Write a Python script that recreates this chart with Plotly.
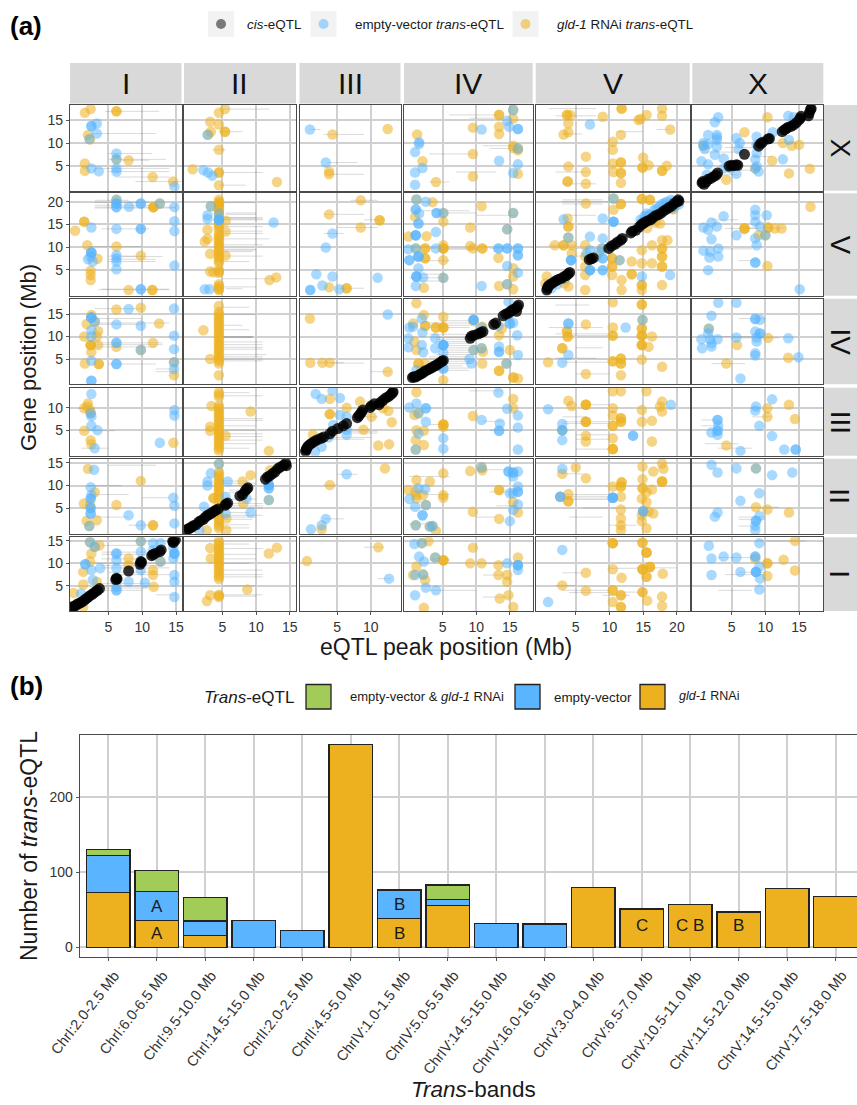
import plotly.graph_objects as go

# ---------- panel (a) data: Mb, (peak position, gene position) ----------
chroms = ["I", "II", "III", "IV", "V", "X"]
rows_top_down = ["X", "V", "IV", "III", "II", "I"]

cis_X = [(0.6,1.2),(0.7,1.5),(0.9,0.9),(1.2,1.4),(1.5,2.0),(1.9,2.2),(2.3,2.6),(2.7,2.9),(2.9,3.4),(4.6,4.9),(4.9,5.1),(5.3,5.0),(5.7,5.2),(5.9,5.1),(6.9,7.5),(9.0,9.3),(9.3,9.9),(9.6,10.2),(10.4,10.9),(10.6,11.0),(12.5,12.5),(12.8,12.9),(13.1,13.2),(13.4,13.5),(13.8,13.7),(14.2,14.0),(14.6,14.5),(15.0,15.1),(15.2,15.5),(15.3,15.9),(16.4,16.0),(16.5,16.6),(16.7,17.4),(16.8,17.6)]
cis_V = [(0.7,0.5),(0.8,0.9),(0.9,1.3),(1.1,1.6),(1.4,1.9),(1.8,2.3),(2.1,2.6),(2.5,2.9),(2.9,3.1),(3.3,3.5),(3.6,3.7),(3.9,4.1),(4.1,4.4),(7.0,7.2),(7.3,7.4),(7.6,7.6),(9.9,9.7),(10.3,10.2),(10.8,10.6),(11.2,11.1),(11.7,11.5),(11.9,11.9),(13.2,13.1),(13.4,13.5),(13.9,13.7),(14.4,14.4),(14.7,14.9),(15.0,15.2),(15.3,15.5),(15.7,15.8),(16.1,16.0),(16.4,16.4),(16.8,16.9),(17.2,17.1),(17.6,17.4),(18.0,17.9),(18.4,18.3),(18.8,18.7),(19.2,19.0),(19.6,19.6),(20.0,20.0),(20.2,20.4),(20.3,20.1)]
cis_IV = [(0.5,0.9),(0.7,1.1),(0.9,1.0),(1.2,1.2),(1.5,1.5),(1.8,1.7),(2.1,2.0),(2.4,2.4),(2.8,2.6),(3.1,2.9),(3.4,3.1),(3.7,3.4),(4.0,3.6),(4.3,3.9),(4.6,4.2),(4.9,4.5),(5.1,4.7),(9.1,9.6),(9.3,10.1),(9.7,10.3),(10.3,10.6),(10.7,10.9),(11.0,11.1),(12.6,12.7),(12.9,13.0),(14.0,14.6),(14.4,15.0),(14.8,15.2),(15.1,15.6),(15.5,16.0),(15.8,16.2),(16.1,16.6),(16.3,17.0),(16.0,15.6)]
cis_III = [(0.3,0.3),(0.4,0.7),(0.5,1.1),(0.7,1.5),(1.0,1.9),(1.3,2.2),(1.7,2.6),(2.1,2.9),(2.6,3.2),(3.0,3.5),(3.9,4.2),(4.3,4.8),(5.1,5.4),(5.9,6.0),(6.4,6.5),(8.0,7.8),(8.2,8.2),(8.4,8.6),(8.6,9.0),(8.8,9.5),(9.9,10.1),(10.1,10.5),(10.5,10.9),(11.2,10.7),(11.4,11.2),(11.8,11.7),(12.2,12.2),(12.6,12.5),(12.9,12.9),(13.2,13.3),(13.3,13.6)]
cis_II = [(-0.3,0.2),(0,0.4),(0.2,0.6),(0.5,0.8),(0.7,1.1),(1.1,1.3),(1.5,1.9),(1.8,2.2),(2.2,2.5),(2.5,3.0),(2.8,3.4),(3.1,3.6),(3.4,3.9),(3.7,4.2),(4.0,4.5),(4.4,4.8),(5.4,5.6),(5.6,5.9),(5.8,6.1),(7.6,7.7),(8.0,8.0),(8.4,8.8),(8.6,9.2),(8.8,9.5),(11.4,11.4),(11.7,11.9),(12.0,12.1),(12.4,12.6),(12.8,13.0),(13.2,13.7),(13.6,14.1),(14.1,14.5),(14.4,14.9),(14.5,14.4)]
cis_I = [(-0.5,0.2),(-0.2,0.4),(0.1,0.5),(0.4,0.9),(0.7,1.1),(1.0,1.3),(1.3,1.6),(1.6,2.0),(1.9,2.3),(2.2,2.7),(2.5,3.0),(2.8,3.3),(3.1,3.7),(3.4,4.0),(3.7,4.4),(6.1,6.4),(6.3,6.5),(6.2,6.7),(8.0,8.3),(9.7,9.8),(9.9,10.2),(9.8,10.4),(11.4,11.7),(11.6,12.0),(11.9,12.2),(12.6,12.6),(12.8,13.0),(14.5,14.9),(14.7,15.0),(14.9,15.2),(14.6,14.6)]

# row X
ev_X_I = [(2.5,13.75),(2.5,13.75),(3.3,14.3),(3.3,12.1),(2.2,10.9),(6.2,7.7),(6.2,6.4),(6.2,4.4),(6.2,3.7),(2.5,4.4),(3.6,3.75),(14.75,0.4)]
gld_X_I = [(1.55,16.7),(2.4,17.5),(6.2,17.0),(6.2,17.0),(2.0,11.8),(1.55,5.5),(1.55,3.9),(8,6.2),(11.55,2.5),(14.55,1.5),(2.3,10.8),(6.2,6.4)]
ci_X_I = [(4.5,12.5,17.0),(2.5,12,12.1),(5,11.5,7.7),(5,13.5,6.4),(7,11,6.2),(3,14,4.4),(5,14,3.7),(6,14,2.5),(9,16,1.5)]
ev_X_II = [(2.8,11.8),(2.2,4.0),(2.9,3.5),(3.5,2.8)]
gld_X_II = [(5.4,17.5),(4.5,16.7),(3.2,14.7),(4.5,14.1),(3.3,12.5),(5.4,12.5),(5.4,12.5),(4.5,8.5),(0.6,4.2),(4.5,3.5),(4.5,3.5),(4.5,0.7),(13.1,1.4),(2.9,11.9)]
ci_X_II = [(5,12,17.5),(4.5,8,12.5),(3.5,5.5,8.5),(5,11,3.5),(4.5,8.5,0.7)]
ev_X_III = [(0.95,13),(3.3,5.7)]
gld_X_III = [(4.3,11.9),(12.5,13.1),(3.8,3.7),(3.8,3.1)]
ci_X_III = [(0.9,2.5,13),(3,9,11.9),(3.5,8,5.7),(4,9,3.1)]
ev_X_IV = [(1.5,9.8),(0.9,8.0),(0.9,3.5),(2,4.5),(0.9,0.8),(15.5,17.3),(10.8,13),(14.6,14.9),(14.9,13.6),(16.2,13.1),(16.2,13.1),(16.2,8.8),(13.4,6.1),(16.2,5.3),(15.5,3.4),(1.5,10.2)]
gld_X_IV = [(1.2,11.9),(2,6),(4,1.4),(9.5,13.4),(9.5,7.6),(9.5,2.6),(13.4,16.2),(13.4,16.2),(13.4,13.6),(13.4,12),(15.5,15.4),(15.5,9.4),(15.5,8.9),(16.2,8.4),(16.2,3.2),(15.5,17.3),(16.2,8.8)]
ci_X_IV = [(6,13,16.2),(9,14,15.5),(12,15,8.8),(11,16,9.4),(3,9.5,7.6),(7,13,3.6),(3,6,1.4)]
ev_X_V = [(7.1,14.1)]
gld_X_V = [(3.7,16.2),(3.7,16.2),(4.2,16.2),(3.9,14.3),(3.2,11.9),(3.9,12.4),(9,15.8),(11.8,17.6),(11.8,17.6),(17.8,17.6),(17.8,16),(15.5,16.2),(14.3,15.1),(14.6,15.3),(19,13),(11.7,11.8),(10.5,10.3),(10.5,8.5),(6.5,7),(15,6.8),(10.5,5.5),(11.7,5.7),(11.7,5.7),(3.9,4.8),(6.5,3.6),(10.6,3.6),(11.7,3.4),(11.7,3.4),(3.8,1.5),(3.8,1.5),(6.5,1),(11.7,1.2),(14.9,4.6),(14.9,4.6),(15.8,5.1),(17.8,3.9),(17.8,3.9),(18.5,5)]
ci_X_V = [(1,8,17.6),(2,8,16),(3,6,12),(11,15,12.5),(17,19,13),(2,7,3.6),(3,8,1)]
ev_X_X = [(3,15.7),(2.5,14.6),(1.5,11.8),(2.8,11.8),(2.8,10.7),(2.8,11.2),(0.8,10),(1.5,9.8),(2.8,9.2),(1,8.7),(2.5,7.4),(3.8,6.6),(0.5,6),(1.5,5.3),(5.7,11.1),(6.2,10),(6,8.7),(8.7,11.4),(8.7,9.6),(8.7,7.8),(8.5,6.4),(8.7,4.9),(9,3.7),(5.7,3.2),(11.1,12.4),(13.4,16),(14.2,15.7),(13.5,10.7),(12.6,6.4),(1.3,3),(3.8,4.4),(4.8,4.4),(8.5,4.4),(0.8,9.4)]
gld_X_X = [(10.3,15.7),(6.9,12.4),(12.6,10),(13.9,9.4),(15,9.6),(11,6.1),(13.5,3.3),(16.6,4.3),(4.2,1.9),(8.5,4.4),(0.8,9.4)]
ci_X_X = [(0.5,7,8),(2,8,4),(1,6,3),(4,9,9),(8,11,7)]

# row V
ev_V_I = [(6.2,20.4),(6.2,19.6),(6.2,19.6),(6.2,18.8),(6.2,18.8),(8.05,18.9),(9.8,19.6),(9.8,19.6),(12.6,19.6),(14.75,18.8),(14.75,15.7),(14.75,13.5),(2.5,14.3),(6.2,14),(9.8,14),(9.8,14),(2.5,8.8),(2.5,8.8),(2.5,8.8),(2.4,7.9),(2,7.3),(2.7,6.8),(6.2,8.2),(6.2,7.5),(6.2,6.8),(6.2,5.1),(14.75,5.9),(9.8,0.7),(9.8,0.7)]
gld_V_I = [(1.45,15.6),(1.45,15.6),(0.1,13.6),(1.9,10.4),(3.4,7.4),(6.2,10.1),(9.8,8.1),(2.4,4.8),(2.4,3.8),(2.4,2.7),(8,0.5),(11.5,0.5),(11.5,0.5),(11.65,18.8),(11.65,18.8),(11.65,18.8),(6.2,20.4),(12.6,19.6)]
ci_V_I = [(3,8,20.3),(3,11,19.8),(3,12,19.2),(3,15,18.8),(3,15,18.6),(4,11,14),(2,10,10.1),(5,10,8),(7,13,7.9),(5,12,7.3),(5,12,6.8),(4,14,0.7),(3.5,14,0.6)]
ev_V_II = [(3.3,19),(2.8,17),(2.8,16.2),(4.5,16),(4.5,16),(4.5,16),(4.5,16),(4.5,17.4),(12.6,15.4),(2.4,0.7),(3.1,0.7)]
gld_V_II = [(4.5,20.4),(4.5,20),(4.5,19.6),(4.5,19.6),(4.5,19.2),(4.5,18.8),(4.5,18.4),(4.5,18),(4.5,17.4),(4.5,16.5),(4.5,15.5),(4.5,15),(4.5,14.5),(4.5,14),(4.5,13),(4.5,12.5),(4.5,12),(4.5,11.5),(4.5,11),(4.5,10.5),(4.5,10),(4.5,9.5),(4.5,9),(4.5,8.5),(4.5,8),(4.5,7.5),(4.5,7),(4.5,6.5),(4.5,5),(4.5,4.5),(4.5,4.3),(4.5,1.8),(4.5,1.4),(4.5,1),(4.5,0.7),(4.5,0.5),(5.5,15.8),(5.5,13.4),(2.8,13.8),(2.8,11.8),(2.4,11.2),(3.2,8.5),(5.5,8.1),(3.2,4.6),(3.7,4.4),(12,2.7),(13,3.3),(3.3,19)]
ci_V_II = [(5,11,16.5),(5,11,16.2),(5,11,16),(5,10,16.4),(5.5,10,17.5),(5.5,10,17.2),(5,10,19.8),(5,11,14.5),(5,11,13.5),(5,11,13),(5,12,11.8),(5,11,10.5),(5,10,9.5),(5,10,9.3),(5,9.5,9),(5,11,8),(5,9,6.8),(5,13,3),(5,10,1.2),(5.5,8,0.8)]
ev_V_III = [(4.3,13),(3.3,9.9),(1.9,4),(4.3,3.5),(2.8,1.5),(1,0.5),(1,0.5),(5.3,0.7),(11,3.2)]
gld_V_III = [(8.5,20.3),(3.8,17.2),(11.3,15.9),(11.3,15.9),(8.5,14.3),(3.8,1.1),(6.4,0.9),(6.4,0.9)]
ci_V_III = [(7,11,20.3),(3,9,17.2),(9,12,16),(5,11,14.3),(3,6,13),(5,9,0.9)]
ev_V_IV = [(1.1,20.5),(2.5,20),(1,18.3),(1,18.3),(1.5,17.4),(1.4,15.2),(1.4,15.2),(1,12.6),(1,12.6),(1,12.6),(-0.1,9.5),(1,9.7),(0.05,7.1),(0.05,7.1),(1.4,7.9),(1.4,7.9),(1.4,7.9),(1.4,5.3),(1.1,3.5),(1.1,3.5),(1.1,3.5),(2.1,3.3),(1,1.4),(4.1,17.5),(4.1,17.5),(5.1,17.5),(4,13.3),(15.5,17.5),(14.6,13.9),(4,9.7),(13.3,9.7),(13.3,9.7),(14.6,9.7),(14.6,9.7),(16.2,9.7),(16.2,9.7),(16.2,8.2),(16.2,8.2),(14.6,5.8),(16.2,4.3),(10.8,1.4),(5.1,3.2),(14.6,1.8)]
gld_V_IV = [(-0.1,12.3),(0.9,16.7),(2.6,12.4),(2.4,9.7),(2.4,9.7),(2.4,7.5),(2.4,7.5),(2.2,1),(1.1,20.5),(1,9.7),(3.5,19.9),(10.8,19),(5.1,17.5),(5.1,15.6),(9.1,14.3),(14.6,13.9),(5.1,10.4),(5.1,9.7),(5.1,9.7),(5.1,9.7),(9.1,10.2),(9.5,9.7),(10.9,9.7),(10.9,9.7),(13.3,7.6),(5.1,7.1),(15.5,5.3),(15.5,3.5),(13.4,1.4),(15.5,0.7),(5.1,3.2),(14.6,1.8),(15.5,17.5)]
ci_V_IV = [(2,9,18),(5,10,17.5),(3,10,9.7),(5,11,9.5),(2,6,7),(10,16,17),(12,16,9.7),(1,5,4),(0,5,3.2),(1,5,2.5)]
ev_V_V = [(3.2,16.1),(9,16.3),(10.6,20.7),(10.6,15.6),(10.6,15.6),(10.6,15.6),(14.6,16),(15.5,17.4),(18.5,20),(17,18.5),(19.3,18.5),(7.1,12.3),(9,11.9),(4.3,7.1),(4.3,7.1),(4.3,7.1),(7.1,9.3),(9,7.5),(9,7.5),(9,4.9),(9,4.9),(7.1,4.9),(7.1,4.9),(7.1,4.9),(11.5,7.1),(14.8,3.5),(19,3.8),(3.9,12.1),(6.6,8.6),(8.9,9.7),(16,17.2),(17.8,19.5),(19.5,20.1),(15.2,16.8),(14.9,15.6),(15.6,16.8),(16.6,18.1),(17.4,18.9),(18.2,19.7),(19.1,20.4),(20.3,19.4),(19.7,19.0),(1.4,0.9),(2.3,1.8),(3.4,3.0),(8.5,8.9)]
gld_V_V = [(6.5,19.6),(11.7,19.5),(11.7,19.5),(10.6,18.2),(14.8,20.6),(14.8,20.6),(16,20.4),(16,20.4),(3.8,16.3),(3.9,14.5),(3.9,14.5),(1.9,10.4),(3.2,10.4),(3.2,10.4),(4.4,10.4),(4.4,8.6),(6.4,10.4),(6.4,7.9),(6.4,5.7),(6.4,3.8),(6.4,0.5),(10.4,7.5),(10.4,7.5),(10.4,5.7),(10.4,5.7),(10.4,3.8),(11.8,2.7),(11.8,0.5),(13.3,6.8),(13.3,4),(13.3,4),(14.8,9.3),(14.8,6.4),(14.8,1.6),(14.8,1.6),(14.8,0.5),(16.3,10.4),(16.3,6.4),(17.8,11.5),(18.6,11.5),(17.8,9.7),(17.8,9.7),(17.8,7.9),(17.8,7.9),(17.8,5.7),(17.8,5.7),(17.8,1.6),(17.5,15.2),(3.9,1.3),(0.7,3.5),(8.1,7.9),(3.9,12.1),(8.9,9.7),(11.5,7.1),(10.6,20.7),(15.6,14.2),(16.8,15.4),(19.5,18.3),(0.5,1.9),(3.3,2.0)]
ci_V_V = [(3,10,20),(3,9,19.5),(4,8,17),(1,5,10.4),(5,10,9.7),(5,8,8),(3,9,20.4)]
ev_V_X = [(3.8,16.8),(2,15.4),(0.8,14.3),(1.5,13.8),(2.8,14.5),(2,11.7),(0.8,9.2),(1.7,7.7),(3,9.7),(3,7.9),(1.8,9),(1.5,4.9),(5.7,12.6),(8.5,18.2),(10.2,17),(8.5,17),(8.5,15.6),(9.2,14.5),(8.5,11.9),(8.7,10.4),(8.5,6.6),(8.5,6.6),(15.1,0.7),(10,12.6)]
gld_V_X = [(6.9,14.1),(6.9,14.1),(6.9,14.1),(10.4,14.3),(10.4,14.3),(11.4,14.1),(12.4,14.1),(16.7,18.9),(10.3,5.8),(9,12.6),(10,12.6)]
ci_V_X = [(4,9,14.1),(7,13,14.2),(3,8,9.6),(6,9,7),(2,6,16)]

# row IV
ev_IV_I = [(2.5,14.2),(2.5,14.2),(2.5,14.2),(8,16.1),(14.7,16.2),(6.2,12.7),(9.8,12.4),(2.5,11.4),(2.5,10),(6.2,8.6),(6.2,8.6),(14.7,10.2),(14.7,7.2),(9.8,7),(2.5,4.6),(6.2,3.9),(6.2,3.9),(14.7,4.3),(14.7,2.8),(2.5,0.2),(2.5,0.2),(3,13.3)]
gld_IV_I = [(2.5,14.8),(6.2,16),(9.8,16.4),(12.5,12.9),(1.8,12.8),(3.5,11.2),(1.45,10),(3.3,10),(2.4,8.1),(2.4,8.1),(2.4,8.1),(3.5,8.1),(6.2,7.7),(2.5,6.5),(11.6,8.6),(1.55,4),(3.6,3.9),(3.6,3.9),(14.7,1.4),(9.8,7),(14.7,4.3),(3,13.3)]
ci_IV_I = [(3,10,16.2),(3,10,14),(3,14,13),(3,13,8.6),(3,13,8.2),(3,12,7.7),(5,12,3.9),(12,15,2.8),(12,15,2.2),(3,10,12.7)]
ev_IV_II = []
gld_IV_II = [(4.5,16.8),(4.5,15.5),(4.5,15),(4.5,14.5),(4.5,14),(4.5,13.5),(4.5,13),(4.5,12.5),(4.5,12),(4.5,11.5),(4.5,11),(4.5,10.5),(4.5,10),(4.5,9.5),(4.5,9),(4.5,8.5),(4.5,8),(4.5,7.5),(4.5,7),(4.5,6.5),(4.5,6),(4.5,5.5),(4.5,5),(4.5,4.5),(4.5,4),(4.5,1.4),(2.2,11.4),(3.2,5)]
ci_IV_II = [(5,9.5,9.9),(5,9.5,9.9),(5,9.5,9.9),(5,11,8.8),(5,11,8.2),(5,11,7.6),(5,11,7.2),(5,11.5,6),(5,11,5.5),(5,11,5),(5,11,4.6),(5,9,16.5),(5,10,14.9),(5,8,12.5),(5,9,11.5)]
ev_IV_III = [(12.5,14.9)]
gld_IV_III = [(0.95,14),(1,4.2),(2.8,4.2),(3.9,4.2),(12.5,2.2)]
ci_IV_III = [(2,6,4.2),(4,9,4.1),(10,13,2.2)]
ev_IV_IV = [(0.05,12),(0.6,12.2),(-0.1,9.6),(-0.1,7.6),(1.9,14),(2,10.9),(1.9,8.1),(2.1,6.5),(1.1,2.6),(9.6,13.7),(9.6,13.7),(9.6,13.7),(10.8,12),(5.1,8.1),(5.1,8.1),(5.1,8.1),(5.1,8.1),(5.1,6.3),(3.9,9.6),(3.9,7.4),(9.3,4),(9,5),(13.4,6.6),(13.4,6.6),(13.4,7.8),(14.8,17.7),(15,12.9),(15,12.9),(16.2,5.9),(16.1,10.3),(14.5,4),(5.1,2.9),(5.1,2.9),(13.3,12.4),(10.8,7.4),(9.6,7),(15.5,13),(14.8,14.5)]
gld_IV_IV = [(1.1,17.4),(2.2,14.8),(0.6,12.9),(2.4,12.4),(2.4,12.4),(0.8,8.9),(1.1,7),(1.4,4),(1.4,4),(2.4,4),(5.1,14.4),(4,12),(4,12),(5.1,12),(5.1,12),(5.1,12),(9.6,13.4),(10.9,12.2),(10.9,4),(13.4,2.4),(13.4,2.4),(15.5,0.9),(15.5,0.9),(16.2,0.7),(13.4,10.3),(15,7),(11,6.6),(5.1,0.3),(14.5,4),(10.8,7.4),(9.6,7),(13.8,11.8)]
ci_IV_IV = [(5,9.3,13.5),(3,9,13),(3,9,12.5),(3,9,12),(3,9,10.5),(4,11,9.8),(4,11,9.4),(4,9,8.9),(4,9,8.5),(5,9,8),(4,9,7.5),(5,9,7),(5,9,6.5),(4,9,6),(3,9,5.5),(3,9,5),(3,9,4.5),(3,9,4),(3,8,3.5),(3,9,3),(4,9,2.5),(13,16,10),(14,17,16)]
ev_IV_V = [(3.9,12.9),(3.9,12.9),(12.4,12),(3,4.2),(3.9,5.9),(14.9,13.7)]
gld_IV_V = [(10.5,17.6),(14.8,17.1),(14.8,17.1),(6.5,12.7),(10.5,12),(3.7,11.2),(3.7,11.2),(3.8,10),(3.8,10),(10.5,10.2),(10.5,10.2),(14.8,11.8),(14.8,11.8),(14.8,10.2),(14.8,10.2),(14.8,10.2),(16.3,10),(14.8,8.1),(14.8,8.1),(14.8,8.1),(15.8,7.7),(3,7.4),(3,7.4),(0.9,4.3),(6.5,1.7),(10.5,4.5),(10.5,4.5),(11.7,5.1),(11.7,5.1),(11.7,4),(11.7,4),(14.8,4.9),(11.7,1.4),(17.8,3.3),(14.9,13.7)]
ci_IV_V = [(2,7,17),(1,9,12),(3,10.5,10.2),(2,10,10.6),(5,9,7.5),(2,8,5.2),(3,10,4.3),(5,10,1.7)]
ev_IV_X = [(3,17.5),(5.7,17.5),(2,14.6),(8.5,13.9),(8.5,13.9),(9.2,13.7),(1.6,11.7),(1.5,10.7),(0.5,9.4),(1.8,9.4),(2.9,9.4),(0.6,7.4),(2,7.8),(2,8.5),(5.7,9.8),(8.5,11.1),(9.2,10.7),(9.2,10.7),(8.7,9.8),(8.7,8.9),(8.5,6.3),(8.5,5.8),(13.4,9.6),(14.9,5.4),(6.3,0.7)]
gld_IV_X = [(10.4,9.7),(5.8,8.1),(4.2,4),(13.4,5.3),(1.6,11.8)]
ci_IV_X = [(5,12,9.7),(2,10,10),(6,10,14),(2,7,4)]

# row III
ev_III_I = [(2.5,13.1),(2.4,8.8),(2.5,8.1),(2.5,6),(3.4,5),(3,1),(12.6,2.2),(14.75,9.5),(14.75,8.3)]
gld_III_I = [(2,11),(1.9,10.3),(1.45,9.9),(2.3,9.5),(1.45,4.9),(2.4,2.8),(2.5,1.9),(14.6,2.2),(2.4,8.8)]
ci_III_I = [(0.5,3,9.9),(1,6,4.9),(1,5,1)]
ev_III_II = []
gld_III_II = [(4.5,13.5),(4.5,13),(4.5,12.5),(4.5,10.5),(4.5,10),(4.5,9.5),(4.5,9),(4.5,8.5),(4.5,8),(4.5,7.5),(4.5,7),(4.5,6.5),(4.5,6),(4.5,5.5),(4.5,5),(4.5,4.5),(4.5,4),(4.5,3.5),(4.5,3),(4.5,2.5),(4.5,2),(4.5,1.5),(4.5,1),(4.5,0.5),(3.4,10.4),(9.2,9.2),(3.2,5.8),(3.2,4.9),(5.5,3.8),(11.9,0.4)]
ci_III_II = [(5,9,13.4),(5,11,12.7),(5,11,7.6),(5,11,7.2),(5,10,6),(5,10,5),(5,11,4.2),(5,11,3.6),(5,11,2.8),(5,10,2),(5,9,1)]
ev_III_III = [(1.8,13.1),(2.7,12),(4.3,13.8),(5.4,12.2),(5.4,8.4),(6.4,8),(4.4,6.2),(6.4,5.1),(6.4,4),(2.7,1.3),(3.7,3.4),(1.7,0.2)]
gld_III_III = [(3.9,12),(3.9,8.6),(3.9,8.6),(6.4,10),(8.9,5.1),(11.1,1.6),(12.7,1.9),(13.1,6.8),(12.6,9.3),(10.1,8),(8.4,11.4),(1.4,4),(11.8,9.9)]
ci_III_III = [(1,10,5.2),(5,11,4.8),(7,11,4.4),(2,10,3.4),(2,9,3),(7,11,8)]
ev_III_IV = [(0.05,10.1),(1.1,11),(2.5,9.9),(2.5,9.9),(2.5,6.9),(1.4,4.3),(1,0.7),(13.3,13.4),(14.6,9.8),(16.2,8.3),(10.8,7.3),(13.5,6.5),(16.2,5.6),(13.4,4.9),(13.4,4.9),(5.1,3.2),(5.1,0.9),(16.2,0.7),(1.4,8.8)]
gld_III_IV = [(1.1,13.5),(0.8,8.4),(1.4,8.8),(1.1,5),(1,2.8),(2.2,4.9),(2.2,1.7),(1,0.7),(15.5,12),(15.5,9.9),(9.5,8.2),(5.1,6.3),(5.1,6.3),(5.1,6.3),(5.1,5.8)]
ci_III_IV = [(3,5,6.3),(11,14,7),(12,16,5),(9,14,13.8)]
ev_III_V = [(0.9,9.7),(19.1,10.7),(3,6.4),(3,5),(3,5),(3,2.8),(13.5,3.8),(13.5,3.8)]
gld_III_V = [(10.5,13.7),(11.7,13.7),(15.5,13.7),(3.9,11.6),(4.4,10.4),(6.5,10.7),(6.5,10.7),(6.5,10.7),(10.5,9.9),(10.5,8.3),(11.7,7.7),(11.7,7.7),(14.8,9.5),(17.8,11.4),(17.5,10.3),(17.8,9.2),(6.5,6.9),(6.5,6.9),(6.5,6.9),(14.8,6.9),(16.3,7.1),(10.5,6),(10.5,6),(11.7,6.9),(11.7,6.9),(6.5,3.8),(6.5,2.5),(10.5,3.2),(16.3,2.5),(10.5,0.8),(10.5,0.8),(10.5,0.8),(3,5)]
ci_III_V = [(6,10,10.7),(3,6.5,8),(3,10,6.9),(3,10,6.5),(5,10,4),(5,10,3),(5,10.5,0.8)]
ev_III_X = [(11,11.9),(8.6,10.3),(8.5,9.4),(2.9,7.3),(2.9,7.3),(3,6),(2,4.5),(2.9,4.9),(2.9,4.9),(2.9,4),(9.1,6),(11,3.7),(6.3,0.4),(12.8,0.7),(14.5,0.7),(14.5,0.7)]
gld_III_X = [(10.3,9.9),(10.3,8),(13.5,10.7),(14.4,7.5),(4.2,1.6)]
ci_III_X = [(0.5,3,7.3),(0.5,3,6),(1,6,2),(3,8,1),(8,11,8)]

# row II
ev_II_I = [(2.9,13.5),(2.4,9.6),(2.5,7.9),(2.4,7.1),(2.4,7.1),(2.4,5),(2.4,5),(2.4,3.8),(2.4,3.8),(2.2,1),(14.6,7.3),(14.75,5.5),(14.75,1.6),(8,3.4),(9.8,1.2)]
gld_II_I = [(2,13.7),(3,8.5),(1.4,6),(6.2,5.7),(9.8,11),(11.6,1.2),(11.6,1.2),(1.8,2.2),(3.3,2.3),(2.3,5.7),(2.2,1)]
ci_II_I = [(5,12,14.5),(2,8,8),(10,14,7.3),(8,12,1.2),(3,8,3),(2,7,10)]
ev_II_II = [(3.3,12.7),(2.8,10.9),(2.8,10),(5.8,10.9),(2.3,5.3),(5.5,7.5),(5.5,3.8),(9.2,4),(11.9,10.1),(11.9,10.1),(11.9,10.1),(11.9,9.4),(11.9,9.4),(11.9,6.8),(8.6,7.1),(1.6,0.1),(4.5,14.8)]
gld_II_II = [(4.5,14.8),(4.5,13),(4.5,12.5),(4.5,12),(4.5,11.5),(4.5,11),(4.5,10.5),(4.5,10),(4.5,9.5),(4.5,9),(4.5,8.5),(4.5,8),(4.5,7.5),(4.5,7),(4.5,6),(4.5,5),(4.5,4),(4.5,3),(4.5,2.5),(4.5,2),(4.5,1.5),(4.5,1),(4.5,0.5),(9.2,12.3),(8,10.9),(5.6,2.7),(5.6,0.1),(2.7,0.1),(3.7,7.2),(3.7,7.2),(12.1,13.4),(8.1,6),(11.9,6.8)]
ci_II_II = [(5,9,11),(5,10,10.5),(6,10,10),(6,9,9),(6,9,8.5),(6,10,7),(6,11,6),(6,11,5.5),(5,11,5),(6,9,4),(5,11,3.4),(5,10,3),(5,9.5,2.5),(5,9,1.3),(5,9,0.6)]
ev_II_III = [(6.4,12.5),(3.3,2.6),(2.7,1.2),(1.1,0.3)]
gld_II_III = [(3.9,10.1),(12.1,13.8),(2.7,0.3)]
ci_II_III = [(5,8,12.5),(3,5,10.1),(3,6,2.6)]
ev_II_IV = [(1.4,9.4),(2.4,9.2),(0.05,7),(0.9,5.3),(2.5,5.7),(2,3.4),(2,3.4),(1,1.2),(3.1,0.9),(10.8,14),(14.8,13.1),(14.8,13.1),(15.5,12.9),(15.5,12.9),(16.2,13.1),(15.5,12),(16.2,9.8),(15,8.3),(16.2,8.6),(16.2,8.6),(15.5,8.3),(16.2,5.8),(15.5,4.6),(15,2.1),(3.5,1)]
gld_II_IV = [(1.1,11.2),(-0.1,9),(1.1,7.1),(2.1,7.9),(0.9,8.6),(1.1,7.9),(3.1,10.9),(5.1,12.7),(9.1,13.2),(10.9,13.4),(5.1,7.9),(5.1,7.3),(13.4,9),(13.4,9),(9.5,4.2),(13.4,2.6),(15.5,6.3),(16.2,4),(4,-0.1),(10.8,14),(1,1.2),(2.5,5.7),(3.5,1),(3.1,0.9)]
ci_II_IV = [(0,6,12),(2,6,8),(0,4,1.5),(12,16,8.6),(11,16,13.5),(10,13,3),(13,16,5.5)]
ev_II_V = [(3,13.7),(2.7,7.5),(2.7,7.5),(10.5,7.3),(10.5,7.3),(10.5,7.3),(10.5,7.3),(15,4.3),(15,4.3)]
gld_II_V = [(5,14),(3,12.6),(6.5,11.6),(14.9,14.2),(17.8,14.9),(18,13.7),(16.5,13.1),(14.9,11.4),(17.8,10.9),(17.8,10.9),(17.8,10.9),(11.8,10.7),(11.8,10.7),(11.7,9.8),(11.7,9.8),(10.5,9.8),(14.9,9.4),(14.9,9.4),(16.3,9.1),(15.5,8.5),(11.7,7.5),(3.9,8.1),(3.9,6.5),(3.9,6.5),(14.8,7.1),(15.5,6.3),(11.7,4.7),(11.7,2.7),(11.7,1.2),(11.7,0.1),(14.8,3.4),(14.8,2.1),(15.5,0.5),(15.8,4.2),(16.5,3.8),(2.7,7.5),(15,4.3)]
ci_II_V = [(3,6,12.6),(3,11,8),(3,11,7.6),(3,11,7.2),(3,11,6.9),(6,11,5),(4,9,3),(10,14,1.2)]
ev_II_X = [(2,14.6),(2.9,12.9),(5.7,13.8),(8.6,13.8),(11,12.3),(14,12.9),(9.1,8.3),(6.3,6.6),(2.9,4),(2.5,3.1),(9.1,3.2),(8.6,2.2),(8.6,2.2),(8.5,1.1),(8.5,0.1)]
gld_II_X = [(8.6,5.2),(10.3,4.7),(13.5,4),(8.6,13.8)]
ci_II_X = [(6,12,5.2),(6,10,3),(6,10,2.5),(6,9,1)]

# row I
ev_I_I = [(2.3,14.7),(3,13.7),(1.6,9.8),(1.6,9.8),(1,3.3),(2.5,8.5),(2.7,6.3),(3.8,8.9),(6.2,12.2),(6.2,12.2),(6.2,10.7),(6.2,8.9),(6.2,4.8),(6.2,4),(6.2,4),(8,5.9),(10.4,5.7),(9.8,14.9),(9.8,8.5),(11.6,14.5),(12.7,14.5),(11.6,13),(14.6,13.4),(14.75,12.2),(14.75,12.2),(14.75,12.2),(14.6,11.1),(14.75,7.4),(14.75,5.9),(14.75,2.5),(12.7,10.4),(9.8,12.6)]
gld_I_I = [(3.7,14),(2.5,12.2),(2.3,10.4),(1.3,8.1),(1.3,5.3),(-0.1,3.4),(1.3,0.3),(8,11.1),(8,9.6),(11.6,7.4),(11.6,8.5),(11.7,4.8),(3.3,5.9),(2.3,14.7),(3,13.7),(9.8,14.9),(12.7,10.4)]
ci_I_I = [(4,10,14),(4,13,12.5),(4,12,12),(4,11,11),(3,13,10),(4,13,9.5),(4,14,9),(5,11,8),(6,14,7.5),(3,11,5.5),(3,12,5),(3,11,4.5),(3,10,4),(12,15,3)]
ev_I_II = []
gld_I_II = [(4.5,15),(4.5,14.5),(4.5,14),(4.5,13.5),(4.5,13),(4.5,12.5),(4.5,12),(4.5,11.5),(4.5,11),(4.5,10.5),(4.5,10),(4.5,9.5),(4.5,9),(4.5,8.5),(4.5,8),(4.5,7.5),(4.5,7),(4.5,6.5),(4.5,3),(4.5,2.8),(4.5,2.5),(3.2,13.4),(3.3,11.1),(11.9,12.2),(13.1,13.5),(8.7,4.2),(3.2,2.9),(2.7,1.6)]
ci_I_II = [(5,9,14.3),(5,11,13.3),(5,10,12),(5,10,11),(5,9,10),(5,11,8.5),(5,11,7.5),(5,11,7),(5,10,5),(5,11,3),(5,10,2.7)]
ev_I_III = [(12.7,6.6)]
gld_I_III = [(0.5,10.5),(11.1,13.6)]
ci_I_III = [(9,12,13.6),(11,13,6.6)]
ev_I_IV = [(0.8,14.3),(1.9,14.5),(1.5,11.5),(2.2,10.4),(2.1,7.5),(0.9,7.4),(2.5,4.6),(0.9,2.9),(3.9,11.3),(16.2,9.6),(16.2,9.6),(16.2,9.6),(14.6,10),(16.2,8.5),(4,4)]
gld_I_IV = [(2.9,14.9),(1.1,9.3),(0.6,7.4),(2.4,6.3),(2.2,0.1),(9.5,13.5),(5.1,10.7),(5.1,10.7),(5.1,10.7),(9.1,10),(10.8,10),(13.3,9.6),(16.2,11.3),(13.3,7.4),(14.6,7.4),(14.6,5.9),(13.5,2.2),(14.8,2.9),(15.5,0.3),(1.9,14.5),(2.1,7.5),(3.9,11.3)]
ci_I_IV = [(3,6,10.7),(3,6,11),(10,16,10),(11,14,7.4),(11,15,2.5),(3,10,4)]
ev_I_V = [(3,13),(0.9,1.4)]
gld_I_V = [(10.5,14.5),(10.5,14.5),(10.5,14.5),(14.9,14.6),(14.9,14.6),(15.5,12.4),(15.5,12.4),(15.5,12.4),(10.5,8.7),(14.9,8.7),(14.9,8.7),(14.9,8.7),(16,9.2),(16,9.2),(16,9.2),(15.5,7),(15.5,7),(6.5,7.9),(11.8,6.8),(17.9,7.7),(3,5.1),(6.5,3.9),(10.5,4),(10.5,4),(11.7,2.9),(11.7,2.9),(14.9,3.6),(14.9,3.6),(17.8,2.6),(10.5,1.4),(15.6,1.7),(17.8,0.5),(11.7,0.3),(11.7,0.3)]
ci_I_V = [(10,14,8.9),(3,6,7.9),(3,10,4),(4,10,3.5),(9,13,2.9),(12,15,3.6),(2,5,5.1),(14,20,9)]
ev_I_X = [(1.6,13.9),(9.1,14.5),(2,11.1),(3.8,11.5),(5.7,11.3),(8.5,11.5),(8.5,11.5),(9.1,9.3),(2,7.4),(6.3,8.1),(8.6,8.1),(8.6,8.1),(8.6,8.1),(9.2,6.6),(9.1,4.2)]
gld_I_X = [(14.4,15),(12.7,10.8),(10.3,10),(10.3,10),(10.3,7.2),(14.4,8.4),(8.5,11)]
ci_I_X = [(3,8,11.3),(6,10,8),(10,16,15),(3,8,4),(4,10,7.5)]

# ---------- panel (b) data ----------
band_labels = ["ChrI:2.0-2.5 Mb","ChrI:6.0-6.5 Mb","ChrI:9.5-10.0 Mb","ChrI:14.5-15.0 Mb","ChrII:2.0-2.5 Mb","ChrII:4.5-5.0 Mb","ChrIV:1.0-1.5 Mb","ChrIV:5.0-5.5 Mb","ChrIV:14.5-15.0 Mb","ChrIV:16.0-16.5 Mb","ChrV:3.0-4.0 Mb","ChrV:6.5-7.0 Mb","ChrV:10.5-11.0 Mb","ChrV:11.5-12.0 Mb","ChrV:14.5-15.0 Mb","ChrV:17.5-18.0 Mb"]
gld_counts = [73,36,16,0,0,270,38,56,0,0,80,51,57,47,78,68]
ev_counts = [49,38,19,36,22,0,38,8,32,31,0,0,0,0,0,0]
both_counts = [8,28,31,0,0,0,1,19,0,0,0,0,0,0,0,0]
# (band index, height, letter)
band_letters = [(1,55,"A"),(1,18,"A"),(6,57,"B"),(6,19,"B"),(11,29,"C"),(12,29,"C B"),(13,29,"B")]

# ---------- layout geometry (pixels) ----------
W, H = 857, 1105
col_px = {"I":(70,181.5),"II":(184,296),"III":(299.5,400.5),"IV":(404,532.7),"V":(535.7,689.7),"X":(692.3,823.3)}
row_px = {"X":(105,190.7),"V":(193.3,295.7),"IV":(298.7,384.3),"III":(387.7,455.7),"II":(458.7,534),"I":(537.3,611)}
x_range = {"I":(-0.65,15.8),"II":(-0.68,15.93),"III":(-0.6,14.4),"IV":(-0.75,18.4),"V":(-0.94,21.9),"X":(-0.85,18.6)}
y_range = {"X":(-0.52,18.4),"V":(-0.74,21.85),"IV":(-0.6,18.4),"III":(-0.67,14.5),"II":(-0.75,15.95),"I":(-0.6,15.8)}
x_ticks = {"I":[5,10,15],"II":[5,10,15],"III":[5,10],"IV":[5,10,15],"V":[5,10,15,20],"X":[5,10,15]}
y_ticks = {"X":[5,10,15],"V":[5,10,15,20],"IV":[5,10,15],"III":[5,10],"II":[5,10,15],"I":[5,10,15]}

BLUE_A = "rgba(86,180,255,0.5)"
GOLD_A = "rgba(236,176,32,0.55)"
BLACK_A = "rgba(0,0,0,0.8)"
BLUE = "#5AB4FF"; GOLD = "#EDB11F"; GREEN = "#A2CC58"
GRID = "#D0D0D0"; BORDER = "#4A4A4A"
FONT = "Liberation Sans"

def xp(px): return px / W
def yp(py): return 1 - py / H

fig = go.Figure()
shapes, ann = [], []
layout = {}

def T(s, x, y, size, color="#1a1a1a", angle=0, xa="center", ya="middle"):
    ann.append(dict(text=s, x=xp(x), y=yp(y), xref="paper", yref="paper", showarrow=False,
                    font=dict(size=size, color=color, family=FONT), textangle=angle,
                    xanchor=xa, yanchor=ya))

n = 0
for r in rows_top_down:
    for c in chroms:
        n += 1
        xa, ya = f"x{n}", f"y{n}"
        bottom_row = r == "I"
        left_col = c == "I"
        layout[f"xaxis{n}"] = dict(
            domain=[xp(col_px[c][0]), xp(col_px[c][1])], range=list(x_range[c]), anchor=ya, automargin=False,
            tickmode="array", tickvals=x_ticks[c], showticklabels=bottom_row,
            ticks="outside" if bottom_row else "", ticklen=3, tickcolor="#555",
            showgrid=True, gridcolor=GRID, gridwidth=1.5, zeroline=False,
            showline=True, mirror=True, linecolor=BORDER, linewidth=1.2,
            tickfont=dict(size=14, color="#333", family=FONT))
        layout[f"yaxis{n}"] = dict(
            domain=[yp(row_px[r][1]), yp(row_px[r][0])], range=list(y_range[r]), anchor=xa, automargin=False,
            tickmode="array", tickvals=y_ticks[r], showticklabels=left_col,
            ticks="outside" if left_col else "", ticklen=3, tickcolor="#555",
            showgrid=True, gridcolor=GRID, gridwidth=1.5, zeroline=False,
            showline=True, mirror=True, linecolor=BORDER, linewidth=1.2,
            tickfont=dict(size=14, color="#333", family=FONT))
        g = globals()
        wx, wy = [], []
        for lo, hi, yy in g[f"ci_{r}_{c}"]:
            wx += [lo, hi, None]; wy += [yy, yy, None]
        fig.add_trace(go.Scatter(x=wx, y=wy, mode="lines", xaxis=xa, yaxis=ya, showlegend=False,
                                 hoverinfo="skip", line=dict(color="rgba(110,110,110,0.25)", width=1)))
        for pts, col in ((g[f"gld_{r}_{c}"], GOLD_A), (g[f"ev_{r}_{c}"], BLUE_A)):
            if pts:
                fig.add_trace(go.Scatter(x=[p[0] for p in pts], y=[p[1] for p in pts], mode="markers",
                                         xaxis=xa, yaxis=ya, showlegend=False,
                                         marker=dict(size=10.5, color=col, line=dict(width=0))))
        if r == c:
            pts = g[f"cis_{c}"]
            fig.add_trace(go.Scatter(x=[p[0] for p in pts], y=[p[1] for p in pts], mode="markers",
                                     xaxis=xa, yaxis=ya, showlegend=False,
                                     marker=dict(size=11, color=BLACK_A, line=dict(width=0))))

# strips
for c in chroms:
    x0, x1 = col_px[c]
    shapes.append(dict(type="rect", xref="paper", yref="paper", x0=xp(x0), x1=xp(x1), y0=yp(103.5), y1=yp(63),
                       fillcolor="#D9D9D9", line=dict(width=0)))
    T(c, (x0 + x1) / 2, 84, 30, color="#111")
for r in rows_top_down:
    y0, y1 = row_px[r]
    shapes.append(dict(type="rect", xref="paper", yref="paper", x0=xp(824), x1=1, y0=yp(y1), y1=yp(y0),
                       fillcolor="#D9D9D9", line=dict(width=0)))
    T(r, 840, (y0 + y1) / 2, 28, color="#111", angle=90)

# panel (a) key
for bx, col in ((208, "rgba(0,0,0,0.5)"), (310.5, BLUE_A), (512.5, GOLD_A)):
    shapes.append(dict(type="rect", xref="paper", yref="paper", x0=xp(bx), x1=xp(bx + 26), y0=yp(37), y1=yp(11),
                       fillcolor="#F2F2F2", line=dict(width=0)))
    shapes.append(dict(type="circle", xref="paper", yref="paper", x0=xp(bx + 8), x1=xp(bx + 18), y0=yp(29), y1=yp(19),
                       fillcolor=col, line=dict(width=0)))
T("<i>cis</i>-eQTL", 245, 24, 13.4, xa="left")
T("empty-vector <i>trans</i>-eQTL", 353, 24, 13.4, xa="left")
T("<i>gld-1</i> RNAi <i>trans</i>-eQTL", 555, 24, 13.4, xa="left")

T("<b>(a)</b>", 8, 26, 26, color="#000", xa="left")
T("<b>(b)</b>", 8, 686, 26, color="#000", xa="left")
T("Gene position (Mb)", 29, 358, 22, angle=-90)
T("eQTL peak position (Mb)", 446, 647, 23)

# panel (b) axes
layout["xaxis99"] = dict(domain=[xp(79.7), 1], range=[-0.59, 15.44], anchor="y99", type="category", automargin=False,
                         categoryorder="array", categoryarray=band_labels, tickangle=-52, ticklabelshift=6,
                         ticks="outside", ticklen=3, tickcolor="#555", showgrid=True, gridcolor=GRID, gridwidth=1.5,
                         showline=True, mirror=True, linecolor=BORDER, linewidth=1.2, zeroline=False,
                         tickfont=dict(size=14.5, color="#333", family=FONT))
layout["yaxis99"] = dict(domain=[yp(957.3), yp(735.3)], range=[-13.3, 282.7], anchor="x99", automargin=False,
                         tickmode="array", tickvals=[0, 100, 200], ticks="outside", ticklen=3, tickcolor="#555",
                         showgrid=True, gridcolor=GRID, gridwidth=1.5, zeroline=False,
                         showline=True, mirror=True, linecolor=BORDER, linewidth=1.2,
                         tickfont=dict(size=14, color="#333", family=FONT))
for vals, col, name in ((gld_counts, GOLD, "gld-1 RNAi"), (ev_counts, BLUE, "empty-vector"),
                        (both_counts, GREEN, "empty-vector & gld-1 RNAi")):
    fig.add_trace(go.Bar(x=band_labels, y=[v or None for v in vals], xaxis="x99", yaxis="y99", name=name, width=0.9,
                         showlegend=False, marker=dict(color=col, line=dict(color="#222", width=1.3))))
for i, h, s in band_letters:
    ann.append(dict(text=s, x=band_labels[i], y=h, xref="x99", yref="y99", showarrow=False,
                    font=dict(size=17, color="#1a1a1a", family=FONT)))

# panel (b) key
for bx, col in ((306, GREEN), (515, BLUE), (640, GOLD)):
    shapes.append(dict(type="rect", xref="paper", yref="paper", x0=xp(bx), x1=xp(bx + 25), y0=yp(709), y1=yp(684.5),
                       fillcolor=col, line=dict(color="#222", width=1.3)))
T("<i>Trans</i>-eQTL", 202, 697, 17, xa="left")
T("empty-vector &amp; <i>gld-1</i> RNAi", 348, 696, 13, xa="left")
T("empty-vector", 552, 697, 13.4, xa="left")
T("<i>gld-1</i> RNAi", 677, 696, 12.5, xa="left")
T("Number of <i>trans</i>-eQTL", 29, 846, 23, angle=-90)
T("<i>Trans</i>-bands", 473, 1089, 22.5)

fig.update_layout(width=W, height=H, margin=dict(l=0, r=0, t=0, b=0, autoexpand=False), paper_bgcolor="white", plot_bgcolor="white",
                  barmode="stack", bargap=0.1, showlegend=False, shapes=shapes, annotations=ann,
                  font=dict(family=FONT), **layout)
fig.write_html("out.html", config={"displayModeBar": False}, post_script="document.body.style.margin='0';")
